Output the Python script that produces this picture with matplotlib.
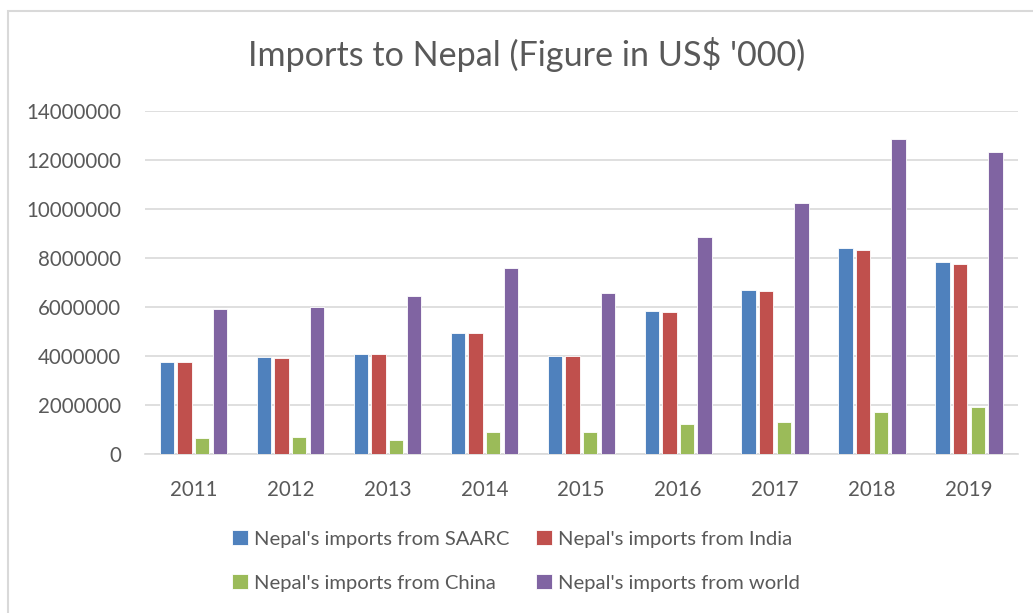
import matplotlib
matplotlib.use("Agg")
import matplotlib.pyplot as plt
from matplotlib.patches import Rectangle
import numpy as np

plt.rcParams['font.family'] = ['Lato', 'DejaVu Sans']

years = ["2011", "2012", "2013", "2014", "2015", "2016", "2017", "2018", "2019"]
saarc = [3760000, 3940000, 4100000, 4950000, 4020000, 5850000, 6690000, 8420000, 7850000]
india = [3740000, 3910000, 4090000, 4920000, 3990000, 5800000, 6640000, 8310000, 7770000]
china = [670000, 680000, 580000, 910000, 880000, 1210000, 1290000, 1700000, 1900000]
world = [5900000, 6010000, 6440000, 7580000, 6590000, 8870000, 10240000, 12860000, 12330000]

series_labels = ["Nepal's imports from SAARC", "Nepal's imports from India",
                 "Nepal's imports from China", "Nepal's imports from world"]
colors = ["#4f81bd", "#c0504d", "#9bbb59", "#8064a2"]
yticks = [0, 2000000, 4000000, 6000000, 8000000, 10000000, 12000000, 14000000]

W, H = 1033, 613
fig = plt.figure(figsize=(W / 100, H / 100), dpi=100)
fig.patch.set_facecolor("white")

# chart frame
fig.patches.append(Rectangle((8 / W, -0.01), 1.02, (H - 11) / H + 0.01,
                             transform=fig.transFigure, fill=False,
                             edgecolor="#d9d9d9", linewidth=1.5))

ax = fig.add_axes([145 / W, (H - 454) / H, (1017.5 - 145) / W, (454 - 111) / H])

x = np.arange(len(years))
pitch = 0.182
width = 0.148
data = [saarc, india, china, world]
handles = []
for i, (vals, col, lab) in enumerate(zip(data, colors, series_labels)):
    b = ax.bar(x + (i - 1.5) * pitch, vals, width, color=col, label=lab,
               edgecolor="white", linewidth=0.6, zorder=3)
    handles.append(b)

ax.set_xlim(-0.5, len(years) - 0.5)
ax.set_ylim(0, 14000000)
ax.set_yticks(yticks)
ax.set_yticklabels([str(v) for v in yticks])
ax.set_xticks(x)
ax.set_xticklabels(years)
ax.yaxis.grid(True, color="#d9d9d9", linewidth=1.2, zorder=0)
ax.set_axisbelow(True)
for s in ["top", "right", "left"]:
    ax.spines[s].set_visible(False)
ax.spines["bottom"].set_color("#d9d9d9")
ax.spines["bottom"].set_linewidth(1.2)
ax.tick_params(axis="both", length=0, labelsize=14.8, colors="#595959")
ax.tick_params(axis="y", pad=17)
ax.tick_params(axis="x", pad=19)

fig.text(527 / W, 1 - 55 / H, "Imports to Nepal (Figure in US$ '000)",
         ha="center", va="center", fontsize=24.6, color="#595959")

# two rows: SAARC / India on top, China / world below
order = [0, 2, 1, 3]
leg = fig.legend(handles=[handles[k] for k in order],
                 labels=[series_labels[k] for k in order], ncol=2,
                 loc="center", bbox_to_anchor=(516 / W, 1 - 561 / H),
                 frameon=False, fontsize=14.6, handlelength=0.75, handleheight=0.75,
                 handletextpad=0.3, columnspacing=1.35, labelspacing=1.3,
                 labelcolor="#595959")

fig.savefig("out.png", dpi=100, facecolor="white")
